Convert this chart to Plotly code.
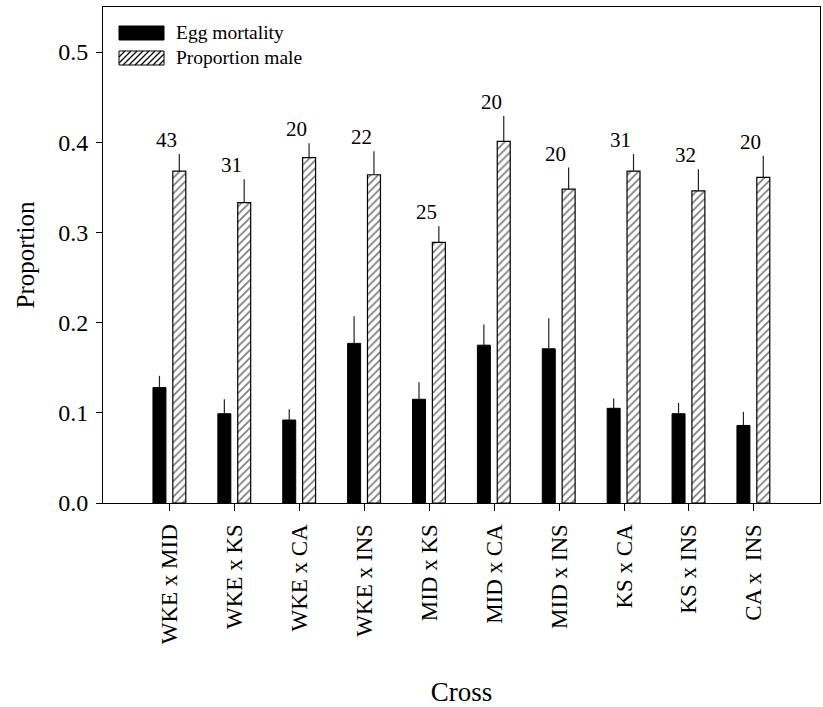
import plotly.graph_objects as go

crosses = ["WKE x MID", "WKE x KS", "WKE x CA", "WKE x INS", "MID x KS",
           "MID x CA", "MID x INS", "KS x CA", "KS x INS", "CA x  INS"]
egg_mortality = [0.128, 0.099, 0.092, 0.177, 0.115, 0.175, 0.171, 0.105, 0.099, 0.086]
egg_mortality_se = [0.013, 0.016, 0.012, 0.030, 0.019, 0.023, 0.034, 0.011, 0.012, 0.015]
prop_male = [0.368, 0.333, 0.383, 0.364, 0.289, 0.401, 0.348, 0.368, 0.346, 0.361]
prop_male_se = [0.019, 0.026, 0.016, 0.026, 0.018, 0.028, 0.024, 0.019, 0.024, 0.024]
n_labels = ["43", "31", "20", "22", "25", "20", "20", "31", "32", "20"]

FONT = "Liberation Serif"
W, H = 823, 707
ML, MR, MT, MB = 103, 3, 7, 204
PW, PH = W - ML - MR, H - MT - MB

x = list(range(len(crosses)))

fig = go.Figure()
fig.add_trace(go.Bar(
    x=x, y=egg_mortality, name="Egg mortality",
    width=0.2, offset=-0.26,
    marker=dict(color="black", line=dict(color="black", width=1)),
    error_y=dict(type="data", array=egg_mortality_se,
                 arrayminus=[0] * len(crosses), symmetric=False,
                 width=0, thickness=1.2, color="#222"),
    showlegend=False,
))
fig.add_trace(go.Bar(
    x=x, y=prop_male, name="Proportion male",
    width=0.2, offset=0.046,
    marker=dict(color="white", line=dict(color="black", width=1.2),
                pattern=dict(shape="/", fgcolor="black", bgcolor="white",
                             size=5.5, solidity=0.32)),
    error_y=dict(type="data", array=prop_male_se,
                 arrayminus=[0] * len(crosses), symmetric=False,
                 width=0, thickness=1.2, color="#222"),
    showlegend=False,
))

for i, lab in enumerate(n_labels):
    fig.add_annotation(x=i - 0.05, y=prop_male[i] + prop_male_se[i],
                       text=lab, showarrow=False, yanchor="middle",
                       yshift=14, font=dict(family=FONT, size=21, color="black"))

# manual legend (pixel -> paper helpers)
def px(xp):
    return (xp - ML) / PW

def py(yp):
    return (MT + PH - yp) / PH

shapes = []
shapes.append(dict(type="rect", xref="paper", yref="paper",
                   x0=px(119), x1=px(164), y0=py(40), y1=py(26),
                   fillcolor="black", line=dict(color="black", width=1)))
hx0, hx1, hy0, hy1 = 119, 164, 51, 65
shapes.append(dict(type="rect", xref="paper", yref="paper",
                   x0=px(hx0), x1=px(hx1), y0=py(hy1), y1=py(hy0),
                   fillcolor="white", line=dict(color="black", width=1)))
h = hy1 - hy0
step = 6.0
c = hx0 - h
while c < hx1:
    t0 = max(0, hx0 - c)
    t1 = min(h, hx1 - c)
    if t1 > t0:
        shapes.append(dict(type="line", xref="paper", yref="paper",
                           x0=px(c + t0), y0=py(hy1 - t0),
                           x1=px(c + t1), y1=py(hy1 - t1),
                           line=dict(color="black", width=1.2)))
    c += step
fig.update_layout(shapes=shapes)

fig.add_annotation(xref="paper", yref="paper", x=px(174), y=py(33),
                   text="Egg mortality", showarrow=False, xanchor="left",
                   yanchor="middle", font=dict(family=FONT, size=19.5, color="black"))
fig.add_annotation(xref="paper", yref="paper", x=px(174), y=py(58),
                   text="Proportion male", showarrow=False, xanchor="left",
                   yanchor="middle", font=dict(family=FONT, size=19.5, color="black"))

fig.update_layout(
    width=W, height=H,
    margin=dict(l=ML, r=MR, t=MT, b=MB),
    paper_bgcolor="white", plot_bgcolor="white",
    barmode="overlay",
    font=dict(family=FONT, color="black"),
    xaxis=dict(
        range=[-1.03, 10.02], tickmode="array", tickvals=x, ticktext=crosses,
        tickangle=-90, ticks="outside", ticklen=7, tickcolor="black",
        showline=True, linecolor="black", linewidth=1, mirror=True,
        showgrid=False, zeroline=False, tickfont=dict(family=FONT, size=23),
        ticklabelstandoff=4,
        title=dict(text="Cross", font=dict(family=FONT, size=27), standoff=38),
    ),
    yaxis=dict(
        range=[0, 0.55], tickmode="array",
        tickvals=[0, 0.1, 0.2, 0.3, 0.4, 0.5],
        ticktext=["0.0", "0.1", "0.2", "0.3", "0.4", "0.5"],
        ticks="outside", ticklen=6, tickcolor="black",
        showline=True, linecolor="black", linewidth=1, mirror=True,
        showgrid=False, zeroline=False, tickfont=dict(family=FONT, size=24),
        ticklabelstandoff=3,
        title=dict(text="Proportion", font=dict(family=FONT, size=25), standoff=16),
    ),
)

fig.write_html("out.html", config={"displayModeBar": False},
               post_script="document.body.style.margin='0px';document.body.style.padding='0px';")
